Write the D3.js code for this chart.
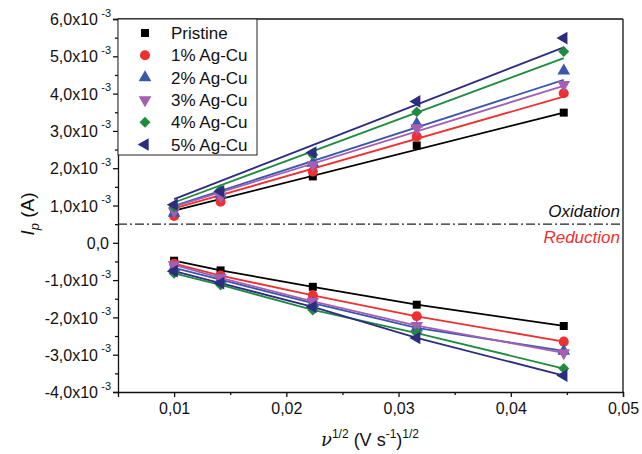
<!DOCTYPE html>
<html>
<head>
<meta charset="UTF-8">
<script src="https://d3js.org/d3.v7.min.js"></script>
<style>
  body { margin: 0; background: #fff; }
  text { font-family: "Liberation Sans", Arial, sans-serif; }
</style>
</head>
<body>
<svg width="642" height="454"></svg>
<script>
// scan rates as v^1/2 (V s^-1)^1/2
const xVals = [0.01, 0.01414, 0.02236, 0.03162, 0.04472];

const seriesNames = ["Pristine", "1% Ag-Cu", "2% Ag-Cu", "3% Ag-Cu", "4% Ag-Cu", "5% Ag-Cu"];
const seriesColors = ["#000000", "#ee3030", "#3b57aa", "#a45fb4", "#1f8b3e", "#2d2c7e"];

// peak currents, units of 1e-3 A
const oxPristine = [0.84, 1.18, 1.78, 2.61, 3.49];
const ox1 = [0.72, 1.10, 1.91, 2.85, 4.01];
const ox2 = [0.80, 1.29, 2.14, 3.19, 4.61];
const ox3 = [0.85, 1.25, 2.09, 3.08, 4.24];
const ox4 = [0.96, 1.42, 2.36, 3.51, 5.13];
const ox5 = [1.02, 1.38, 2.42, 3.79, 5.49];

// fitted oxidation lines, value at first and last x
const oxFitStart = [0.86, 0.92, 0.99, 0.97, 1.08, 1.17];
const oxFitEnd = [3.49, 3.92, 4.37, 4.21, 4.95, 5.24];

const redPristine = [-0.48, -0.74, -1.18, -1.66, -2.23];
const red1 = [-0.56, -0.88, -1.41, -1.97, -2.65];
const red2 = [-0.67, -0.99, -1.62, -2.28, -2.90];
const red3 = [-0.59, -0.94, -1.57, -2.22, -2.95];
const red4 = [-0.82, -1.13, -1.80, -2.42, -3.37];
const red5 = [-0.76, -1.08, -1.72, -2.55, -3.56];

const oxData = [oxPristine, ox1, ox2, ox3, ox4, ox5];
const redData = [redPristine, red1, red2, red3, red4, red5];

const yTicks = [-4, -3, -2, -1, 0, 1, 2, 3, 4, 5, 6];
const xTicks = [0.01, 0.02, 0.03, 0.04, 0.05];
const boundary = 0.5;

const L = 118, R = 623, T = 19, B = 392;
const svg = d3.select("svg");

const x = d3.scaleLinear().domain([0.005, 0.05]).range([L, R]);
const y = d3.scaleLinear().domain([-4, 6]).range([B, T]);

const symbols = [
  {type: d3.symbolSquare, size: 64, rot: 0},
  {type: d3.symbolCircle, size: 80, rot: 0},
  {type: d3.symbolTriangle, size: 70, rot: 0},
  {type: d3.symbolTriangle, size: 70, rot: 180},
  {type: d3.symbolSquare, size: 60, rot: 45},
  {type: d3.symbolTriangle, size: 70, rot: -90}
];

// axes
const xAxis = svg.append("g").attr("transform", `translate(0,${B})`)
  .call(d3.axisBottom(x).tickValues(xTicks).tickSize(5).tickPadding(6)
    .tickFormat(d => d3.format(".2f")(d).replace(".", ",")));
xAxis.selectAll("text").attr("font-size", 16).attr("fill", "#111")
  .attr("font-family", "Liberation Sans, Arial, sans-serif");

svg.append("g").attr("transform", `translate(0,${B})`)
  .call(d3.axisBottom(x).tickValues([0.015, 0.025, 0.035, 0.045]).tickSize(3).tickFormat(""))
  .select(".domain").remove();

const yAxis = svg.append("g").attr("transform", `translate(${L},0)`)
  .call(d3.axisLeft(y).tickValues(yTicks).tickSize(5).tickPadding(5).tickFormat(""));
yAxis.selectAll(".tick").each(function(d) {
  const t = d3.select(this).append("text")
    .attr("x", d === 0 ? -9 : -20).attr("dy", "0.35em")
    .attr("text-anchor", "end").attr("font-size", 16).attr("fill", "#111");
  if (d === 0) { t.text("0,0"); return; }
  t.text(d.toFixed(1).replace(".", ",") + "x10");
  d3.select(this).append("text").attr("x", -7).attr("y", -3)
    .attr("text-anchor", "end").attr("font-size", 11).attr("fill", "#111").text("-3");
});
svg.append("g").attr("transform", `translate(${L},0)`)
  .call(d3.axisLeft(y).tickValues(d3.range(-3.5, 6, 1)).tickSize(3).tickFormat(""))
  .select(".domain").remove();

svg.selectAll(".domain, .tick line").attr("stroke", "#111").attr("stroke-width", 1.3);

// frame top and right
svg.append("line").attr("x1", L).attr("x2", R).attr("y1", T).attr("y2", T)
  .attr("stroke", "#111").attr("stroke-width", 1.3);
svg.append("line").attr("x1", R).attr("x2", R).attr("y1", T).attr("y2", B)
  .attr("stroke", "#111").attr("stroke-width", 1.3);

// oxidation / reduction boundary
svg.append("line").attr("x1", L).attr("x2", R).attr("y1", y(boundary)).attr("y2", y(boundary))
  .attr("stroke", "#222").attr("stroke-width", 1.2).attr("stroke-dasharray", "9,3,2,3");
svg.append("text").attr("x", 620).attr("y", 217).attr("text-anchor", "end")
  .attr("font-size", 17).attr("font-style", "italic").attr("fill", "#111").text("Oxidation");
svg.append("text").attr("x", 620).attr("y", 243).attr("text-anchor", "end")
  .attr("font-size", 17).attr("font-style", "italic").attr("fill", "#ee3030").text("Reduction");

const line = d3.line().x(d => x(d[0])).y(d => y(d[1]));
const x0 = xVals[0], x1 = xVals[xVals.length - 1];

seriesNames.forEach((name, i) => {
  const c = seriesColors[i];
  svg.append("path").attr("d", line([[x0, oxFitStart[i]], [x1, oxFitEnd[i]]]))
    .attr("fill", "none").attr("stroke", c).attr("stroke-width", 1.8);
  svg.append("path").attr("d", line(xVals.map((v, j) => [v, redData[i][j]])))
    .attr("fill", "none").attr("stroke", c).attr("stroke-width", 1.8);
});

seriesNames.forEach((name, i) => {
  const s = symbols[i];
  const sym = d3.symbol().type(s.type).size(s.size);
  const pts = xVals.map((v, j) => [v, oxData[i][j]]).concat(xVals.map((v, j) => [v, redData[i][j]]));
  svg.append("g").selectAll("path").data(pts).enter().append("path")
    .attr("d", sym)
    .attr("transform", d => `translate(${x(d[0])},${y(d[1])}) rotate(${s.rot})`)
    .attr("fill", seriesColors[i]);
});

// legend
const lg = svg.append("g");
lg.append("rect").attr("x", L).attr("y", T).attr("width", 139).attr("height", 136)
  .attr("fill", "#fff").attr("stroke", "#222").attr("stroke-width", 1);
seriesNames.forEach((name, i) => {
  const s = symbols[i];
  const cy = 33 + i * 22.3;
  lg.append("path").attr("d", d3.symbol().type(s.type).size(s.size))
    .attr("transform", `translate(145,${cy}) rotate(${s.rot})`).attr("fill", seriesColors[i]);
  lg.append("text").attr("x", 171).attr("y", cy).attr("dy", "0.36em")
    .attr("font-size", 17).attr("fill", "#111").text(name);
});

// axis titles
const xt = svg.append("text").attr("x", 370).attr("y", 446).attr("text-anchor", "middle")
  .attr("font-size", 18).attr("fill", "#111");
xt.append("tspan").attr("font-style", "italic").attr("font-family", "DejaVu Serif, serif").text("ν");
xt.append("tspan").attr("font-size", 12).attr("dy", -8).text("1/2");
xt.append("tspan").attr("dy", 8).text(" (V s");
xt.append("tspan").attr("font-size", 12).attr("dy", -8).text("-1");
xt.append("tspan").attr("dy", 8).text(")");
xt.append("tspan").attr("font-size", 12).attr("dy", -8).text("1/2");

const yt = svg.append("text").attr("transform", "translate(34,214) rotate(-90)")
  .attr("text-anchor", "middle").attr("font-size", 19).attr("fill", "#111");
yt.append("tspan").attr("font-style", "italic").text("I");
yt.append("tspan").attr("font-style", "italic").attr("font-size", 13).attr("dy", 5).text("p");
yt.append("tspan").attr("dy", -5).text(" (A)");
</script>
</body>
</html>
